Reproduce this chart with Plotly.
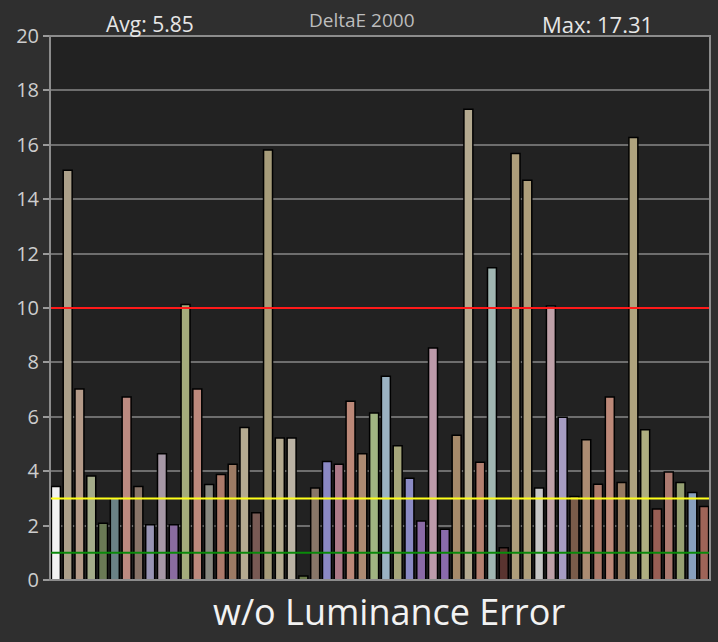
import plotly.graph_objects as go

# DeltaE 2000 per patch, left to right
patches = list(range(1, 57))
delta_e = [
    3.44, 15.06, 7.02, 3.82, 2.09, 3.01, 6.73, 3.44, 2.03, 4.64,
    2.03, 10.13, 7.02, 3.51, 3.88, 4.26, 5.61, 2.47, 15.81, 5.22,
    5.22, 0.15, 3.38, 4.36, 4.26, 6.57, 4.64, 6.14, 7.49, 4.94,
    3.74, 2.17, 8.53, 1.87, 5.32, 17.31, 4.33, 11.48, 1.19, 15.68,
    14.70, 3.38, 10.07, 5.98, 3.07, 5.16, 3.52, 6.73, 3.58, 16.27,
    5.52, 2.61, 3.97, 3.58, 3.22, 2.70,
]
patch_colors = [
    "#f2f2f2", "#aca08a", "#b49a88", "#a4ac8a", "#6a7a55", "#6a8286", "#bc8a80", "#887468",
    "#9894b4", "#a698a6", "#8a6ca0", "#a4ac7c", "#bc887c", "#888880", "#ac7a6a", "#9c7a64",
    "#b4aa90", "#785a54", "#a69c7a", "#b4aa90", "#bab2a4", "#6a7a4a", "#887668", "#8a88c4",
    "#ac7a88", "#bc8878", "#ac8a72", "#a0b482", "#9ab2c2", "#a6a67a", "#8a8ac4", "#8a6aa6",
    "#bc9aaa", "#8a6aac", "#a68a6a", "#b4aa90", "#b48070", "#a0b6b2", "#5a3430", "#ae9e7a",
    "#ae9e7a", "#c6c6c6", "#bea0a8", "#a69cc2", "#7a5c4a", "#ac8c72", "#ac7a6a", "#bc8878",
    "#967a62", "#aea27e", "#aeae80", "#985e54", "#ac7a70", "#96a072", "#88a0be", "#9e6458",
]
y_ticks = [0, 2, 4, 6, 8, 10, 12, 14, 16, 18, 20]
thresholds = [(10, "#ff1a1a"), (3, "#ffff1a"), (1, "#0a8a0a")]
avg_label = "Avg: 5.85"
max_label = "Max: 17.31"

fig = go.Figure()
fig.add_trace(go.Bar(
    x=patches, y=delta_e,
    marker=dict(color=patch_colors, line=dict(color="#000000", width=1.5)),
    width=0.76,
))

for level, col in thresholds:
    fig.add_shape(type="line", xref="paper", yref="y", x0=0, x1=1, y0=level, y1=level,
                  line=dict(color=col, width=2), layer="above")

# frame round the plot area
fig.add_shape(type="rect", xref="paper", yref="paper", x0=0, x1=1, y0=0, y1=1,
              line=dict(color="#8c8c8c", width=2), layer="above")

fig.add_annotation(text=avg_label, xref="paper", yref="paper", x=0.152, y=1.0,
                   xanchor="center", yanchor="bottom", yshift=-4, showarrow=False,
                   font=dict(size=21, color="#e6e6e6"))
fig.add_annotation(text="DeltaE 2000", xref="paper", yref="paper", x=0.472, y=1.0,
                   xanchor="center", yanchor="bottom", yshift=1, showarrow=False,
                   font=dict(size=19, color="#bdbdbd"))
fig.add_annotation(text=max_label, xref="paper", yref="paper", x=0.83, y=1.0,
                   xanchor="center", yanchor="bottom", yshift=-5, showarrow=False,
                   font=dict(size=22, color="#e6e6e6"))
fig.add_annotation(text="w/o Luminance Error", xref="paper", yref="paper", x=0.513, y=0,
                   xanchor="center", yanchor="top", yshift=-5, showarrow=False,
                   font=dict(size=36, color="#f2f2f2"))

fig.update_layout(
    width=718, height=642,
    margin=dict(l=50, r=8, t=36, b=62),
    paper_bgcolor="#2f2f2f", plot_bgcolor="#222222",
    font=dict(family="Open Sans, Noto Sans, sans-serif", color="#c8c8c8"),
    showlegend=False, bargap=0.24,
    xaxis=dict(range=[0.5, 56.5], showticklabels=False, showgrid=False,
               zeroline=False, ticks=""),
    yaxis=dict(range=[0, 20], tickvals=y_ticks, showgrid=True, gridcolor="#6e6e6e",
               gridwidth=2, zeroline=False, ticks="outside", ticklen=6,
               tickcolor="#9a9a9a", tickwidth=2, tickfont=dict(size=20, color="#cdcdcd")),
)

# drop the default body margin so the figure sits at the window corner
page_fix = ("document.body.style.margin='0';"
            "document.body.style.background='#2f2f2f';"
            "document.body.style.overflow='hidden';")
fig.write_html("out.html", post_script=page_fix, config={"displayModeBar": False})
